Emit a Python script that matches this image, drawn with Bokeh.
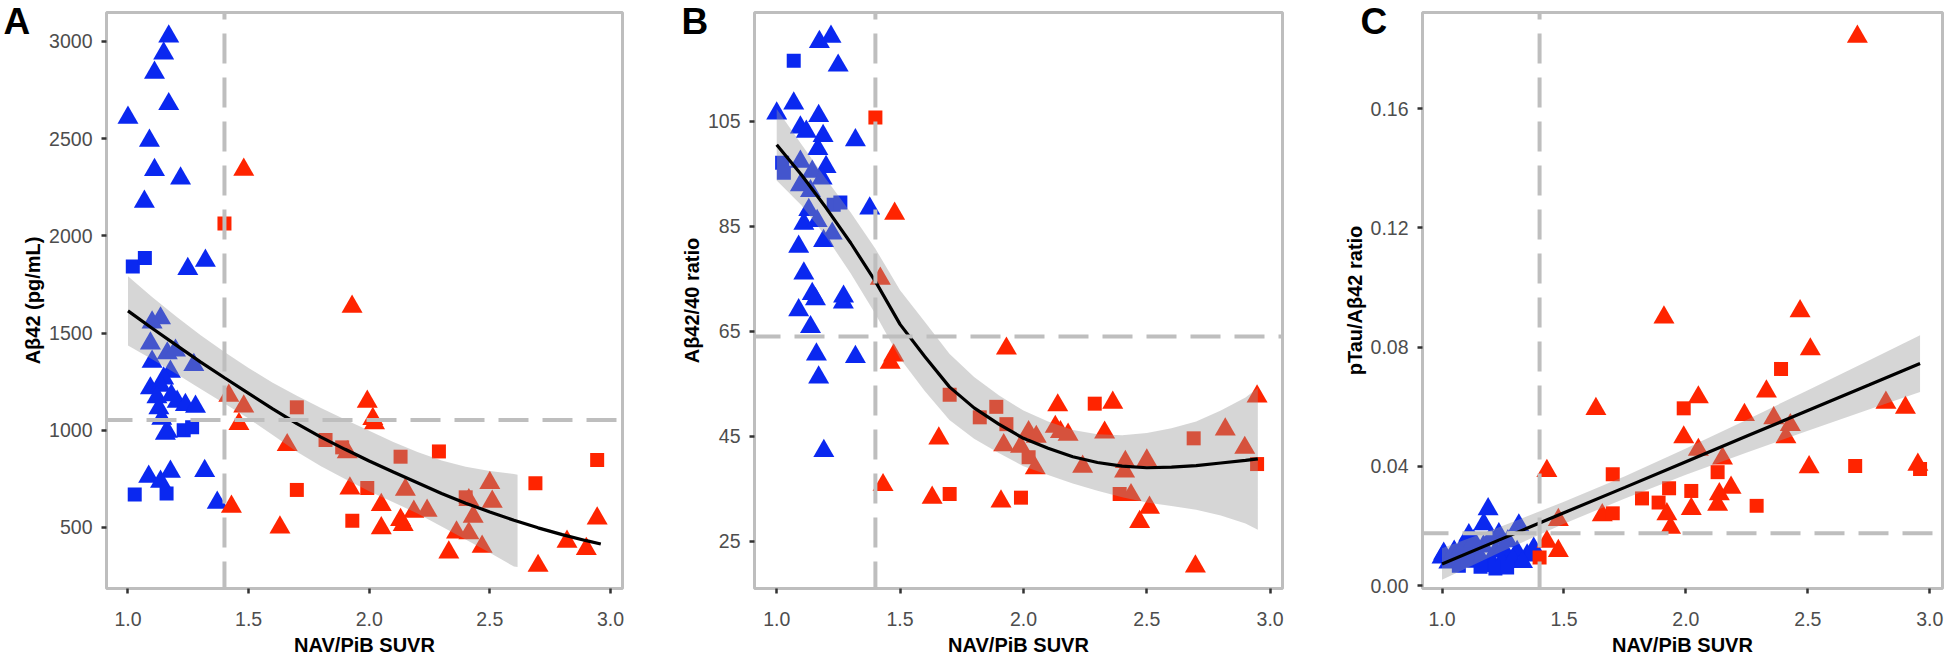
from bokeh.plotting import figure
from bokeh.layouts import row
from bokeh.models import Range1d, FixedTicker, PrintfTickFormatter, Span, Label
from bokeh.embed import file_html
from bokeh.resources import INLINE

FONT = "Liberation Sans"
BLUE = "#0A28F0"
RED = "#FF2400"
REF_GRAY = "#BEBEBE"

x_ticks = [1.0, 1.5, 2.0, 2.5, 3.0]
x_title = "NAV/PiB SUVR"
x_cut = 1.4

# ---------------- Panel A ----------------
a_letter = "A"
a_ylabel = "Aβ42 (pg/mL)"
a_yticks = [500, 1000, 1500, 2000, 2500, 3000]
a_ycut = 1053
a_blue_tri_x = [1.169, 1.148, 1.110, 1.169, 1.000, 1.089, 1.110, 1.218, 1.068, 1.248, 1.321, 1.135, 1.100, 1.093,
                1.163, 1.197, 1.100, 1.273, 1.176, 1.148, 1.093, 1.135, 1.204, 1.238, 1.280, 1.128, 1.163, 1.155,
                1.086, 1.176, 1.135, 1.318, 1.370, 1.120, 1.180, 1.140]
a_blue_tri_y = [3026, 2939, 2840, 2678, 2608, 2490, 2339, 2296, 2176, 1830, 1872, 1576, 1555, 1447,
                1396, 1410, 1353, 1336, 1301, 1267, 1216, 1229, 1147, 1130, 1121, 1113, 993, 983,
                761, 787, 736, 791, 628, 1170, 1180, 1060]
a_blue_sq_x = [1.020, 1.070, 1.231, 1.266, 1.028, 1.160]
a_blue_sq_y = [1842, 1886, 1000, 1015, 669, 675]
a_red_tri_x = [1.480, 1.429, 1.630, 1.418, 1.480, 1.460, 1.660, 1.929, 1.992, 2.022, 2.015, 1.909, 1.920, 2.150,
               2.050, 2.050, 2.185, 2.240, 2.130, 2.141, 2.330, 2.362, 2.413, 2.413, 2.431, 2.500, 2.510, 2.468,
               2.700, 2.820, 2.900, 2.945]
a_red_tri_y = [2341, 607, 500, 1178, 1123, 1032, 924, 1636, 1147, 1036, 1058, 887, 701, 694,
               616, 496, 581, 586, 539, 513, 372, 475, 470, 641, 556, 729, 633, 401,
               303, 427, 390, 547]
a_red_sq_x = [1.400, 1.700, 1.819, 1.700, 1.888, 2.130, 2.289, 1.992, 1.930, 2.400, 2.689, 2.945]
a_red_sq_y = [2064, 1118, 950, 693, 912, 864, 891, 703, 535, 655, 727, 847]
a_fit_x = [1.0, 1.1, 1.2, 1.3, 1.4, 1.5, 1.6, 1.7, 1.8, 1.9, 2.0, 2.1, 2.2, 2.3, 2.4, 2.5, 2.6, 2.7, 2.8, 2.9, 2.96]
a_fit_y = [1614, 1525, 1438, 1352, 1270, 1190, 1110, 1034, 965, 902, 842, 785, 730, 675, 625, 580, 537, 498, 463, 432, 415]
a_band_x = [1.0, 1.1, 1.2, 1.3, 1.4, 1.5, 1.6, 1.7, 1.8, 1.9, 2.0, 2.1, 2.2, 2.3, 2.4, 2.5, 2.6, 2.615]
a_band_hi = [1792, 1685, 1585, 1490, 1402, 1320, 1245, 1178, 1115, 1055, 998, 940, 888, 845, 812, 790, 775, 771]
a_band_lo = [1436, 1365, 1291, 1214, 1138, 1060, 975, 890, 815, 749, 686, 630, 572, 505, 438, 370, 299, 297]

# ---------------- Panel B ----------------
b_letter = "B"
b_ylabel = "Aβ42/40 ratio"
b_yticks = [25, 45, 65, 85, 105]
b_ycut = 64.0
b_blue_tri_x = [1.173, 1.220, 1.249, 1.069, 1.000, 1.170, 1.096, 1.120, 1.188, 1.319, 1.167, 1.200, 1.096, 1.144,
                1.184, 1.096, 1.137, 1.377, 1.130, 1.110, 1.164, 1.225, 1.190, 1.089, 1.110, 1.144, 1.157, 1.271,
                1.270, 1.089, 1.137, 1.161, 1.319, 1.170, 1.191]
b_blue_tri_y = [120.1, 121.1, 115.6, 108.4, 106.5, 106.0, 103.8, 103.0, 102.2, 101.4, 99.7, 96.3, 97.3, 95.4,
                94.1, 92.8, 91.7, 88.4, 88.1, 85.5, 86.0, 83.6, 82.2, 81.1, 76.0, 72.1, 71.1, 71.6,
                70.5, 69.0, 65.8, 60.6, 60.1, 56.2, 42.2]
b_blue_sq_x = [1.069, 1.022, 1.029, 1.231, 1.258]
b_blue_sq_y = [116.5, 97.1, 95.2, 89.1, 89.5]
b_red_tri_x = [1.478, 1.420, 1.474, 1.460, 1.431, 1.657, 1.630, 1.931, 1.909, 1.920, 2.021, 2.052, 1.988, 2.048,
               2.139, 2.362, 2.129, 2.150, 2.181, 2.329, 2.240, 2.413, 2.410, 2.500, 2.436, 2.511, 2.471, 2.697,
               2.818, 2.947, 2.897]
b_red_tri_y = [87.4, 75.0, 60.4, 59.0, 35.7, 44.6, 33.3, 61.7, 32.6, 43.3, 45.8, 44.9, 43.0, 38.9,
               50.9, 51.4, 46.8, 45.8, 45.3, 45.7, 39.2, 40.1, 38.3, 40.4, 33.8, 31.4, 28.7, 20.2,
               46.3, 52.6, 42.8]
b_red_sq_x = [1.400, 1.701, 1.701, 1.990, 1.823, 1.890, 1.931, 2.021, 2.289, 2.390, 2.690, 2.947]
b_red_sq_y = [105.7, 52.9, 34.0, 33.3, 48.6, 50.6, 47.3, 41.0, 51.2, 34.0, 44.6, 39.7]
b_fit_x = [1.0, 1.1, 1.2, 1.3, 1.4, 1.5, 1.6, 1.7, 1.8, 1.9, 2.0, 2.1, 2.2, 2.3, 2.4, 2.5, 2.6, 2.7, 2.8, 2.9, 2.95]
b_fit_y = [100.5, 94.8, 88.5, 81.8, 74.5, 66.3, 60.2, 54.4, 50.4, 47.3, 44.6, 42.7, 41.1, 40.0, 39.3, 39.0, 39.1,
           39.4, 39.9, 40.4, 40.7]
b_band_x = b_fit_x
b_band_hi = [107.3, 100.6, 94.0, 87.6, 80.7, 72.8, 66.8, 60.7, 56.3, 52.8, 49.9, 47.8, 46.2, 45.4, 45.2, 45.6, 46.5,
             47.8, 49.9, 52.4, 54.2]
b_band_lo = [93.7, 89.0, 83.0, 76.0, 68.3, 59.8, 53.6, 48.1, 44.5, 41.8, 39.3, 37.6, 36.0, 34.6, 33.4, 32.4, 31.7,
             31.0, 29.9, 28.4, 27.2]

# ---------------- Panel C ----------------
c_letter = "C"
c_ylabel = "pTau/Aβ42 ratio"
c_yticks = [0.00, 0.04, 0.08, 0.12, 0.16]
c_ycut = 0.0176
c_blue_tri_x = [1.189, 1.171, 1.110, 1.233, 1.315, 1.007, 1.048, 1.096, 1.083, 1.137, 1.199, 1.240, 1.206, 1.260,
                1.308, 1.349, 1.376, 1.000, 1.028, 1.050, 1.080, 1.120, 1.150, 1.170, 1.220, 1.250, 1.290, 1.330,
                1.100, 1.130, 1.200, 1.270]
c_blue_tri_y = [0.0257, 0.0207, 0.0170, 0.0173, 0.0203, 0.0108, 0.0104, 0.0104, 0.0095, 0.0091, 0.0087, 0.0074,
                0.0067, 0.0097, 0.0114, 0.0102, 0.0125, 0.0095, 0.0078, 0.0115, 0.0125, 0.0118, 0.0105, 0.0132,
                0.0115, 0.0125, 0.0088, 0.0080, 0.0140, 0.0150, 0.0160, 0.0150]
c_blue_sq_x = [1.069, 1.103, 1.158, 1.219, 1.267]
c_blue_sq_y = [0.0067, 0.0084, 0.0064, 0.0058, 0.0061]
c_red_tri_x = [2.703, 1.910, 2.468, 2.510, 2.330, 2.051, 1.631, 2.240, 2.360, 2.820, 2.900, 2.428, 2.410, 1.991,
               2.051, 2.150, 2.505, 2.951, 1.430, 2.185, 2.137, 2.130, 1.922, 2.022, 1.937, 1.657, 1.477, 1.430,
               1.477]
c_red_tri_y = [0.1841, 0.0900, 0.0921, 0.0793, 0.0652, 0.0632, 0.0593, 0.0573, 0.0562, 0.0614, 0.0597, 0.0539,
               0.0498, 0.0498, 0.0456, 0.0427, 0.0398, 0.0406, 0.0385, 0.0329, 0.0307, 0.0272, 0.0240, 0.0258,
               0.0195, 0.0237, 0.0221, 0.0148, 0.0117]
c_red_sq_x = [2.390, 1.991, 2.694, 2.960, 1.700, 2.130, 1.931, 2.022, 1.820, 1.888, 2.290, 1.700, 1.400]
c_red_sq_y = [0.0727, 0.0595, 0.0402, 0.0392, 0.0374, 0.0381, 0.0327, 0.0318, 0.0293, 0.0279, 0.0268, 0.0243,
              0.0095]
c_fit_x = [1.0, 1.25, 1.5, 1.75, 2.0, 2.25, 2.5, 2.75, 2.96]
c_fit_y = [0.0073, 0.0159, 0.0245, 0.0330, 0.0416, 0.0502, 0.0588, 0.0673, 0.0745]
c_band_x = c_fit_x
c_band_hi = [0.0126, 0.0201, 0.0282, 0.0367, 0.0460, 0.0557, 0.0656, 0.0755, 0.0840]
c_band_lo = [0.0020, 0.0117, 0.0208, 0.0293, 0.0372, 0.0447, 0.0520, 0.0591, 0.0650]


def panel(letter, ylabel, yticks, yfmt, ycut, xr, yr, width, ml, mr, letter_side, letter_x,
          btx, bty, bsx, bsy, rtx, rty, rsx, rsy, fx, fy, bx, bhi, blo):
    p = figure(width=width, height=660, x_range=Range1d(*xr), y_range=Range1d(*yr),
               output_backend="svg", toolbar_location=None,
               min_border_left=ml, min_border_right=mr, min_border_top=12, min_border_bottom=72)
    p.background_fill_color = "white"
    p.border_fill_color = "white"
    p.outline_line_color = REF_GRAY
    p.outline_line_width = 3
    p.outline_line_alpha = 1.0
    p.xgrid.grid_line_color = None
    p.ygrid.grid_line_color = None

    p.xaxis.ticker = FixedTicker(ticks=x_ticks)
    p.xaxis.formatter = PrintfTickFormatter(format="%.1f")
    p.yaxis.ticker = FixedTicker(ticks=yticks)
    p.yaxis.formatter = PrintfTickFormatter(format=yfmt)
    for ax in (p.xaxis[0], p.yaxis[0]):
        ax.axis_line_color = None
        ax.major_tick_line_color = "#333333"
        ax.major_tick_line_width = 2.5
        ax.major_tick_out = 5
        ax.major_tick_in = 0
        ax.minor_tick_line_color = None
        ax.major_label_text_font = FONT
        ax.major_label_text_font_size = "19.5px"
        ax.major_label_text_color = "#4D4D4D"
        ax.axis_label_text_font = FONT
        ax.axis_label_text_font_size = "20px"
        ax.axis_label_text_font_style = "bold"
        ax.axis_label_text_color = "black"
    p.xaxis.major_label_standoff = 18
    p.xaxis.axis_label = x_title
    p.xaxis.axis_label_standoff = 5
    p.yaxis.major_label_standoff = 9
    p.yaxis.axis_label = ylabel
    p.yaxis.axis_label_standoff = 2

    # points
    p.scatter(btx, bty, marker="triangle", size=21, fill_color=BLUE, line_color=None)
    p.scatter(bsx, bsy, marker="square", size=14, fill_color=BLUE, line_color=None)
    p.scatter(rtx, rty, marker="triangle", size=21, fill_color=RED, line_color=None)
    p.scatter(rsx, rsy, marker="square", size=14, fill_color=RED, line_color=None)

    # smooth band + fit line
    p.varea(x=bx, y1=blo, y2=bhi, fill_color="#999999", fill_alpha=0.4)
    p.line(fx, fy, line_color="black", line_width=3.2)

    # reference lines
    p.add_layout(Span(location=x_cut, dimension="height", line_color=REF_GRAY, line_width=4,
                      line_dash="30 14", line_dash_offset=23))
    p.add_layout(Span(location=ycut, dimension="width", line_color=REF_GRAY, line_width=4,
                      line_dash="30 14", line_dash_offset=4))

    # panel letter, placed in a side panel so it is not clipped to the frame
    p.add_layout(Label(x=letter_x, y=567, x_units="screen", y_units="screen", text=letter,
                       text_align="left", text_baseline="alphabetic", text_font=FONT,
                       text_font_size="37px", text_font_style="bold", text_color="black"), letter_side)
    return p


pA = panel(a_letter, a_ylabel, a_yticks, "%d", a_ycut, (0.911, 3.05), (186, 3149), 655, 106, 33, "right", -619,
           a_blue_tri_x, a_blue_tri_y, a_blue_sq_x, a_blue_sq_y, a_red_tri_x, a_red_tri_y, a_red_sq_x, a_red_sq_y,
           a_fit_x, a_fit_y, a_band_x, a_band_hi, a_band_lo)
pB = panel(b_letter, b_ylabel, b_yticks, "%d", b_ycut, (0.910, 3.05), (16.0, 125.7), 657, 99, 30, "right", -601,
           b_blue_tri_x, b_blue_tri_y, b_blue_sq_x, b_blue_sq_y, b_red_tri_x, b_red_tri_y, b_red_sq_x, b_red_sq_y,
           b_fit_x, b_fit_y, b_band_x, b_band_hi, b_band_lo)
pC = panel(c_letter, c_ylabel, c_yticks, "%.2f", c_ycut, (0.920, 3.052), (-0.0009, 0.1922), 634, 110, 4, "left", 47,
           c_blue_tri_x, c_blue_tri_y, c_blue_sq_x, c_blue_sq_y, c_red_tri_x, c_red_tri_y, c_red_sq_x, c_red_sq_y,
           c_fit_x, c_fit_y, c_band_x, c_band_hi, c_band_lo)

layout = row(pA, pB, pC)
open("out.html", "w").write(file_html(layout, INLINE))
